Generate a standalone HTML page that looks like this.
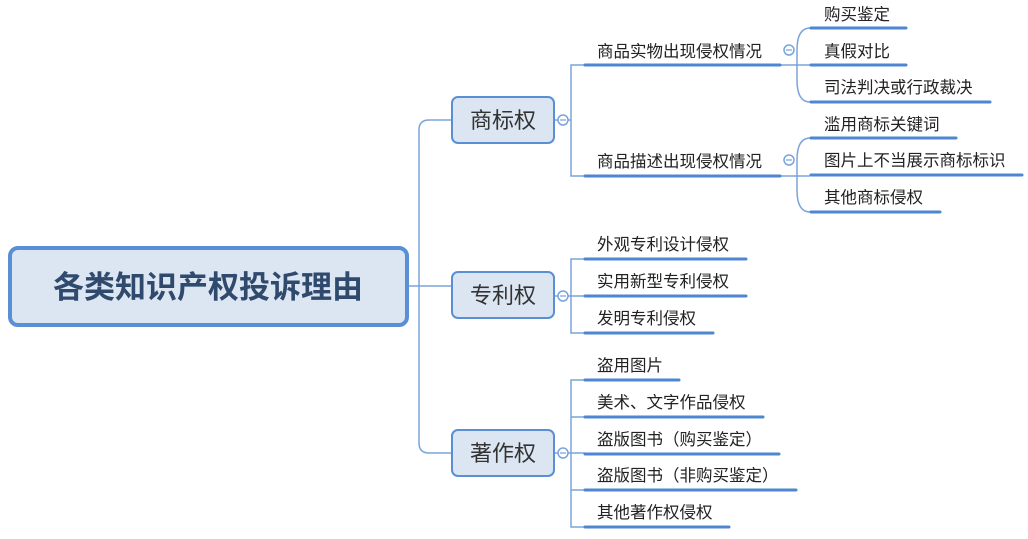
<!DOCTYPE html>
<html><head><meta charset="utf-8"><style>
html,body{margin:0;padding:0;background:#fff;width:1028px;height:539px;overflow:hidden}
svg text{font-family:"Liberation Sans","Noto Sans CJK SC",sans-serif}
</style></head><body>
<svg width="1028" height="539" viewBox="0 0 1028 539" xmlns="http://www.w3.org/2000/svg">
<g fill="none" stroke="#7aa3dc" stroke-width="1.5">
<path d="M409 286 H451"/>
<path d="M451 120 H429 Q419 120 419 130 V443 Q419 453 429 453 H451"/>
<path d="M555 120 H571"/>
<path d="M585 65 H571 V176 H585"/>
<path d="M555 296 H585"/>
<path d="M585 259 H571 V333 H585"/>
<path d="M555 453 H585"/>
<path d="M585 380 H571 V527 H585 M571 417 H585 M571 490 H585"/>
<path d="M780 65 H810"/>
<path d="M810 28 Q797 28 797 50 V80 Q797 102 810 102"/>
<path d="M780 176 H810"/>
<path d="M810 138 Q797 138 797 160 V190 Q797 212 810 212"/>
<circle cx="563" cy="120" r="5" fill="#fff"/>
<circle cx="563" cy="296" r="5" fill="#fff"/>
<circle cx="563" cy="453" r="5" fill="#fff"/>
<circle cx="789" cy="50" r="5" fill="#fff"/>
<circle cx="789" cy="160" r="5" fill="#fff"/>
</g>
<g stroke="#7aa3dc" stroke-width="1.2">
<path d="M560 120H566M560 296H566M560 453H566M786 50H792M786 160H792"/>
</g>
<g stroke="#4f86d0" stroke-width="3" stroke-linecap="round">
<path d="M585 65H780M585 176H780"/>
<path d="M811 28H906M811 65H906M811 102H990M811 138H956M811 175H1022M811 212H940"/>
<path d="M585 259H746M585 296H746M585 333H713"/>
<path d="M585 380H679M585 417H763M585 454H779M585 490H796M585 527H729"/>
</g>
<rect x="10" y="248" width="397" height="77" rx="8" fill="#dce6f2" stroke="#5a8fd6" stroke-width="4"/>
<text x="208" y="298" text-anchor="middle" font-size="31" font-weight="bold" fill="#2f4a6d">各类知识产权投诉理由</text>
<g fill="#dce6f2" stroke="#5a8fd6" stroke-width="2">
<rect x="452" y="97" width="102" height="46" rx="6"/>
<rect x="452" y="272" width="102" height="46" rx="6"/>
<rect x="452" y="430" width="102" height="46" rx="6"/>
</g>
<g font-size="22" fill="#333" text-anchor="middle">
<text x="503" y="128">商标权</text>
<text x="503" y="303">专利权</text>
<text x="503" y="461">著作权</text>
</g>
<g font-size="16.5" fill="#222">
<text x="597" y="57">商品实物出现侵权情况</text>
<text x="597" y="167">商品描述出现侵权情况</text>
<text x="824" y="20">购买鉴定</text>
<text x="824" y="57">真假对比</text>
<text x="824" y="93">司法判决或行政裁决</text>
<text x="824" y="130">滥用商标关键词</text>
<text x="824" y="166">图片上不当展示商标标识</text>
<text x="824" y="203">其他商标侵权</text>
<text x="597" y="250">外观专利设计侵权</text>
<text x="597" y="287">实用新型专利侵权</text>
<text x="597" y="324">发明专利侵权</text>
<text x="597" y="371">盗用图片</text>
<text x="597" y="408">美术、文字作品侵权</text>
<text x="597" y="445">盗版图书（购买鉴定）</text>
<text x="597" y="481">盗版图书（非购买鉴定）</text>
<text x="597" y="518">其他著作权侵权</text>
</g>
</svg>
</body></html>
